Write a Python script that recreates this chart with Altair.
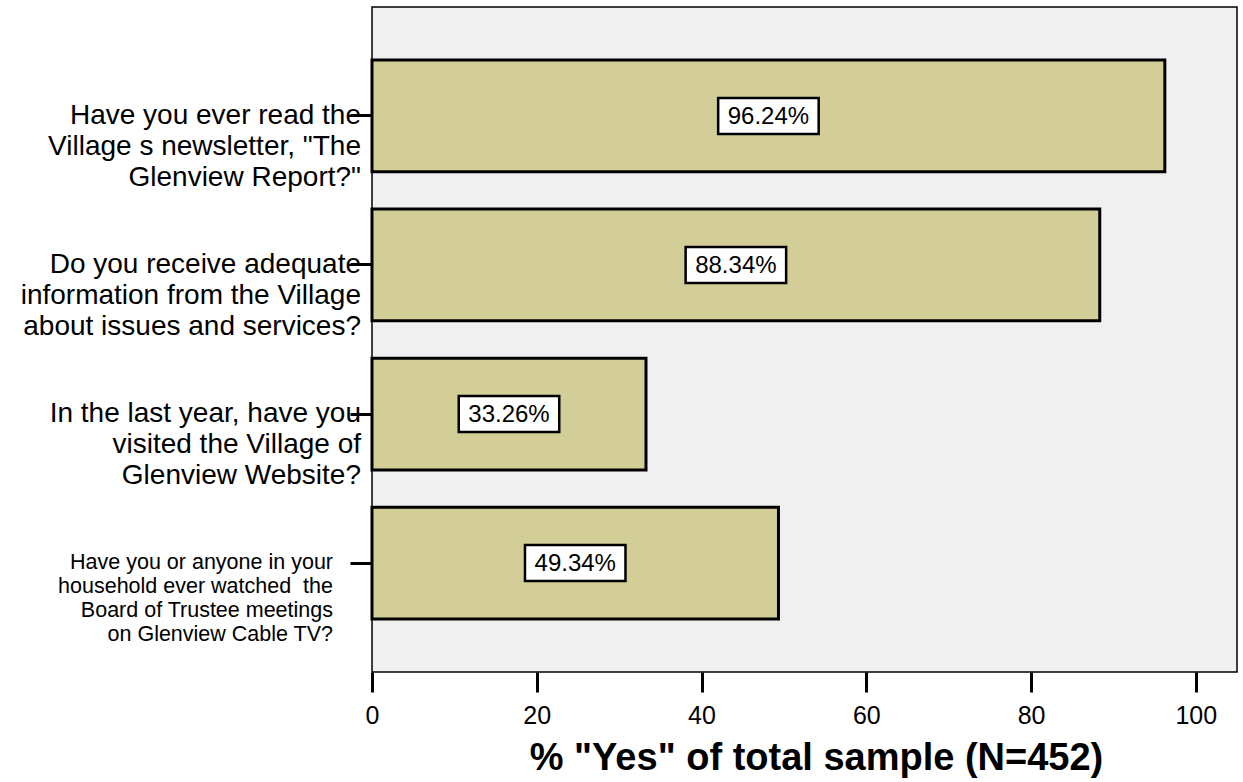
import altair as alt
import pandas as pd

# Survey questions (multi-line labels) and share answering "Yes"
questions = [
    'Have you ever read the\nVillage s newsletter, "The\nGlenview Report?"',
    "Do you receive adequate\ninformation from the Village\nabout issues and services?",
    "In the last year, have you\nvisited the Village of\nGlenview Website?",
    "Have you or anyone in your\nhousehold ever watched\u00a0\u00a0the\u00a0\nBoard of Trustee meetings\u00a0\non Glenview Cable TV?",
]
pct_yes = [96.24, 88.34, 33.26, 49.34]
value_labels = ["96.24%", "88.34%", "33.26%", "49.34%"]
x_ticks = [0, 20, 40, 60, 80, 100]

df = pd.DataFrame({
    "question": questions,
    "pct": pct_yes,
    "label": value_labels,
    "order": list(range(len(questions))),
})

FONT = "Liberation Sans"

y_enc = alt.Y(
    "question:N",
    sort=questions,
    scale=alt.Scale(paddingInner=0.25, paddingOuter=0.356),
    axis=alt.Axis(labels=False, title=None, ticks=True, tickSize=22,
                  tickWidth=3, tickColor="black", domain=False, grid=False),
)
x_scale = alt.Scale(domain=[0, 105], nice=False, zero=True)

base = alt.Chart(df)

bars = base.mark_bar(color="#D3CE98", stroke="black", strokeWidth=3).encode(
    x=alt.X(
        "pct:Q",
        scale=x_scale,
        axis=alt.Axis(values=x_ticks, tickSize=20, tickWidth=3, tickColor="black",
                      domain=False, grid=False, labelFontSize=25, labelFont=FONT,
                      labelColor="black", labelPadding=11, labelFlush=False,
                      title='% "Yes" of total sample (N=452)', titleFont=FONT,
                      titleFontSize=38, titleFontWeight="bold", titleColor="black",
                      titlePadding=11, titleX=444),
    ),
    y=y_enc,
)

# White boxes behind the value labels, centred on the middle of each bar
boxes = base.transform_calculate(
    lo="datum.pct / 2 - 6.1", hi="datum.pct / 2 + 6.1"
).mark_bar(color="white", stroke="black", strokeWidth=2.5, height=36).encode(
    x=alt.X("lo:Q", scale=x_scale),
    x2="hi:Q",
    y=y_enc,
)

values = base.transform_calculate(mid="datum.pct / 2").mark_text(
    font=FONT, fontSize=24, color="black", align="center", baseline="middle", dy=1
).encode(
    x=alt.X("mid:Q", scale=x_scale),
    y=y_enc,
    text="label:N",
)

# Category labels drawn as multi-line text to the left of the plot
cat_big = base.transform_filter("datum.order < 3").mark_text(
    font=FONT, fontSize=28, color="black", align="right", baseline="middle",
    lineBreak="\n", lineHeight=31,
).encode(x=alt.value(-11), y=y_enc, text="question:N")

cat_small = base.transform_filter("datum.order == 3").mark_text(
    font=FONT, fontSize=21.5, color="black", align="right", baseline="middle",
    lineBreak="\n", lineHeight=24,
).encode(x=alt.value(-39), y=y_enc, text="question:N")

chart = alt.layer(bars, boxes, values, cat_big, cat_small).properties(
    width=865,
    height=665,
    autosize=alt.AutoSizeParams(type="none"),
    padding={"left": 372, "top": 7, "right": 6, "bottom": 110},
    background="white",
).configure_view(
    fill="#F0F0F0", stroke="black", strokeWidth=1.5
)

chart.save("out.html", embed_options={"renderer": "svg", "actions": False})
